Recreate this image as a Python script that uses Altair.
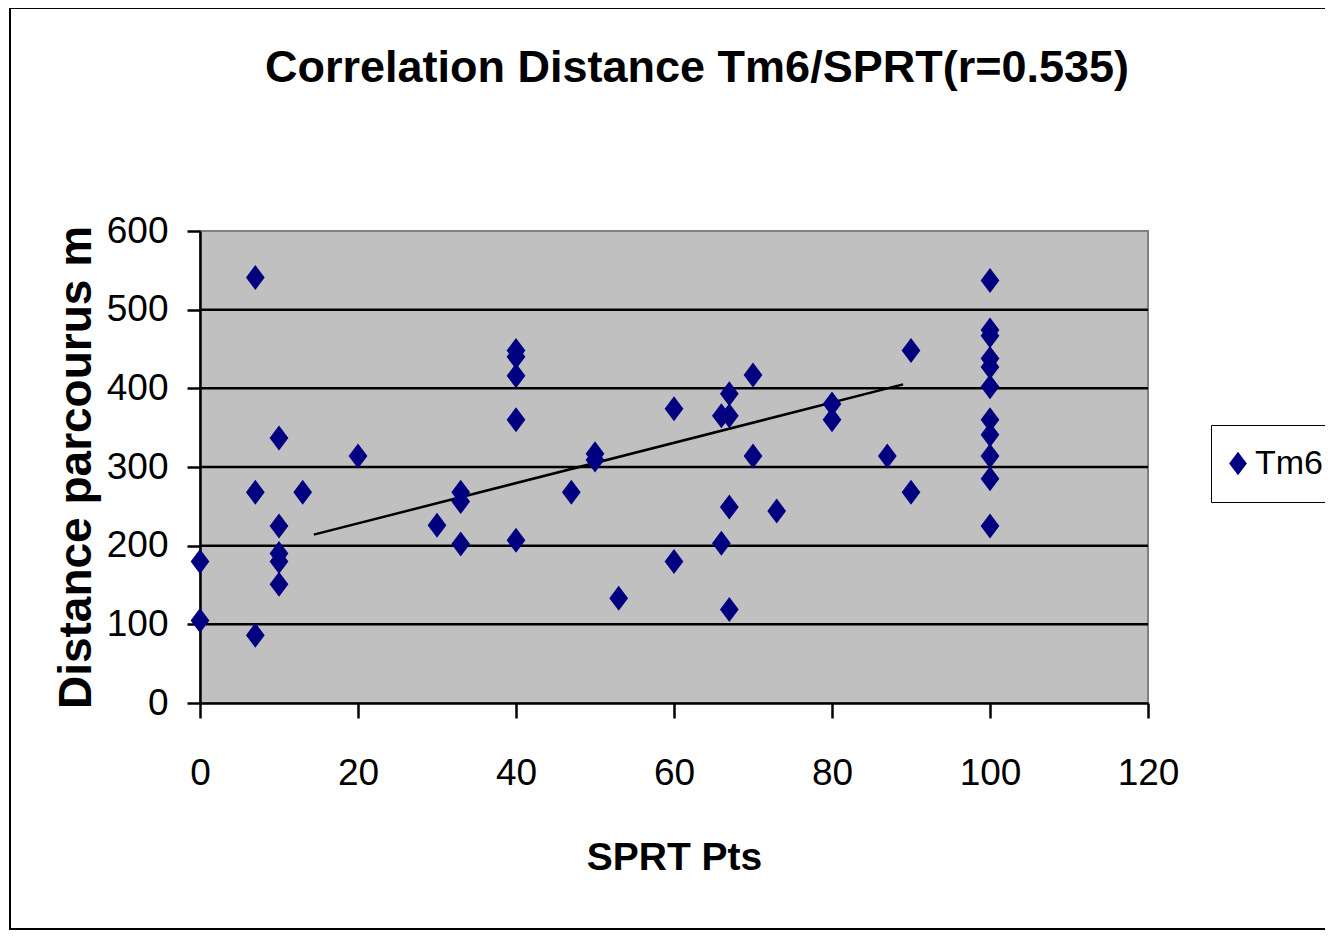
import altair as alt
import pandas as pd

# SPRT points (x) and distance covered in metres (y)
sprt = [0, 0, 7, 7, 7, 10, 10, 10, 10, 10, 13, 20, 30, 33, 33, 33,
        40, 40, 40, 40, 40, 47, 50, 50, 53, 60, 60, 66, 66, 67, 67, 67, 67,
        70, 70, 73, 80, 80, 87, 90, 90,
        100, 100, 100, 100, 100, 100, 100, 100, 100, 100, 100]
distance = [180, 105, 541, 268, 86, 337, 225, 190, 180, 151, 268, 314, 226, 268, 256, 202,
            448, 440, 416, 360, 207, 268, 317, 309, 133, 374, 180, 365, 203, 393, 365, 249, 119,
            417, 314, 244, 380, 360, 314, 448, 268,
            537, 474, 467, 438, 427, 402, 360, 341, 314, 285, 225]

# trend line end points as drawn
trend_x = [14.4, 89]
trend_y = [214, 405]

grid_values = [100, 200, 300, 400, 500]
y_ticks = [0, 100, 200, 300, 400, 500, 600]
x_ticks = [0, 20, 40, 60, 80, 100, 120]

pts = pd.DataFrame({"x": sprt, "y": distance, "series": ["Tm6"] * len(sprt)})
trend = pd.DataFrame({"x": trend_x, "y": trend_y})
grid = pd.DataFrame({"g": grid_values})

FONT = "Liberation Sans, Arial, sans-serif"
DIAMOND = "M0,-1L0.75,0L0,1L-0.75,0Z"

xscale = alt.Scale(domain=[0, 120], nice=False, zero=False)
yscale = alt.Scale(domain=[0, 600], nice=False)

xaxis = alt.Axis(values=x_ticks, title="SPRT Pts", grid=False, tickSize=15,
                 labelPadding=37, labelFlush=False, titleY=154, titleBaseline="middle")
yaxis = alt.Axis(values=y_ticks, title="Distance parcourus m", grid=False, tickSize=13,
                 labelPadding=19, labelFlush=False, titleX=-124, titleY=236, titleAngle=270,
                 titleBaseline="middle", titleAlign="center")

gridlines = alt.Chart(grid).mark_rule(color="black", strokeWidth=2.5).encode(
    y=alt.Y("g:Q", scale=yscale, axis=yaxis, title="Distance parcourus m")
)

trendline = alt.Chart(trend).mark_line(color="black", strokeWidth=2.5).encode(
    x=alt.X("x:Q", scale=xscale, axis=xaxis),
    y=alt.Y("y:Q", scale=yscale, axis=yaxis),
)

points = alt.Chart(pts).mark_point(shape=DIAMOND, filled=True, size=625, opacity=1).encode(
    x=alt.X("x:Q", scale=xscale, axis=xaxis),
    y=alt.Y("y:Q", scale=yscale, axis=yaxis),
    color=alt.Color("series:N", scale=alt.Scale(range=["#000080"]),
                    legend=alt.Legend(title=None, orient="none", legendX=1011, legendY=194,
                                      symbolType=DIAMOND, symbolSize=560,
                                      labelFont=FONT, labelFontSize=34, labelColor="black",
                                      labelOffset=0, padding=10, clipHeight=57,
                                      strokeColor="black", fillColor="white")),
)

border = alt.Chart(grid).mark_rect(fill=None, stroke="black", strokeWidth=2, clip=False).encode(
    x=alt.value(-190), x2=alt.value(1150), y=alt.value(-223), y2=alt.value(698)
)

chart = alt.layer(border, gridlines, trendline, points).properties(
    width=948, height=472,
    title=alt.Title("Correlation Distance Tm6/SPRT(r=0.535)", font=FONT, fontSize=45,
                    fontWeight="bold", color="black", anchor="middle", frame="group",
                    dx=23, offset=-120, baseline="alphabetic"),
    autosize=alt.AutoSizeParams(type="none"),
    padding={"left": 192, "top": 223, "right": 177, "bottom": 228},
).configure_view(
    fill="#C0C0C0", stroke="#808080", strokeWidth=2
).configure_axis(
    domainColor="black", domainWidth=2.5, tickColor="black", tickWidth=2.5,
    labelFont=FONT, labelFontSize=37, labelColor="black",
    titleFont=FONT, titleFontSize=46, titleFontWeight="bold", titleColor="black"
).configure_axisX(titleFontSize=39)

chart.save("out.html", embed_options={"renderer": "svg", "actions": False})
